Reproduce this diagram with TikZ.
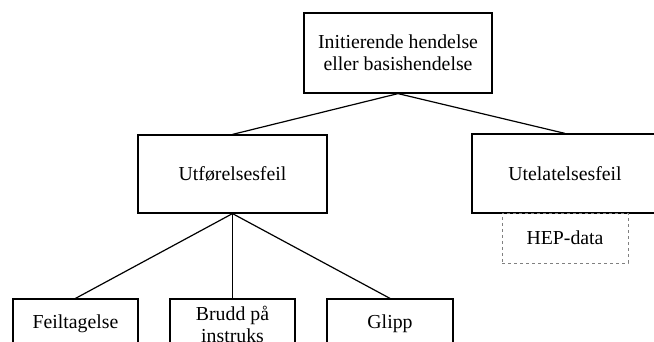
\documentclass[tikz,border=0pt]{standalone}
\usepackage{fontspec}
\setmainfont{Liberation Serif}
\begin{document}
\begin{tikzpicture}[x=1pt,y=-1pt]

        \useasboundingbox (0,0) rectangle (654,342);

        \begin{scope}[every node/.style={draw,rectangle,line width=1.2pt,inner sep=0pt,align=center,
            font=\fontsize{19.8}{22}\selectfont}]
          \node[minimum width=188pt,minimum height=80pt] (init)  at (398,53)  {Initierende hendelse\\eller basishendelse};
          \node[minimum width=189pt,minimum height=78pt] (utf)   at (232.5,174) {Utførelsesfeil};
          \node[minimum width=186pt,minimum height=79pt] (utel)  at (565,173.5) {Utelatelsesfeil};
          \node[minimum width=125pt,minimum height=50pt] (feil)  at (75.5,324) {Feiltagelse};
          \node[minimum width=125pt,minimum height=50pt] (brudd) at (232.5,324) {Brudd på\\instruks};
          \node[minimum width=126pt,minimum height=50pt] (glipp) at (390,324) {Glipp};
          \node[dashed,draw=gray,line width=0.8pt,minimum width=126pt,minimum height=50pt] (hep) at (565,238) {HEP-data};
        \end{scope}

        \begin{scope}[every edge/.style={draw,line width=1.2pt}]
          \path (init.south) edge (utf.north);
          \path (init.south) edge (utel.north);
          \path (utf.south)  edge (feil.north);
          \path (utf.south)  edge (brudd.north);
          \path (utf.south)  edge (glipp.north);
        \end{scope}

      \end{tikzpicture}
\end{document}
